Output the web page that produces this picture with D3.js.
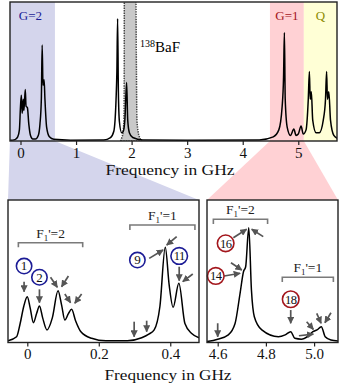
<!DOCTYPE html>
<html><head><meta charset="utf-8">
<script src="https://cdn.jsdelivr.net/npm/d3@7"></script>
<style>
body{margin:0;background:#fff;}
text{font-family:"Liberation Serif","DejaVu Serif",serif;}
</style></head><body>
<svg id="c" width="340" height="387"></svg>
<script>
// ---------- DATA ----------
// overview spectrum: [frequency GHz, relative intensity]
const overviewSpectrum = [
 [-0.19,0.005],[-0.1,0.01],[-0.05,0.03],[-0.02,0.08],[0.0,0.25],[0.015,0.33],[0.03,0.2],[0.05,0.3],[0.062,0.22],
 [0.086,0.37],[0.1,0.25],[0.124,0.24],[0.15,0.12],[0.18,0.04],[0.22,0.015],[0.27,0.015],[0.32,0.04],[0.35,0.12],
 [0.375,0.3],[0.39,0.69],[0.405,0.4],[0.425,0.44],[0.44,0.3],[0.47,0.1],[0.52,0.03],[0.6,0.012],[0.9,0.006],
 [1.5,0.008],[1.62,0.025],[1.68,0.07],[1.72,0.3],[1.735,0.5],[1.748,0.88],[1.762,0.35],[1.78,0.14],[1.82,0.06],
 [1.85,0.07],[1.88,0.16],[1.91,0.42],[1.93,0.15],[1.96,0.06],[2.02,0.025],[2.2,0.008],[3.0,0.005],[4.3,0.008],
 [4.55,0.03],[4.65,0.08],[4.71,0.25],[4.735,0.46],[4.75,0.78],[4.765,0.3],[4.8,0.1],[4.86,0.04],[4.92,0.086],
 [4.96,0.04],[5.0,0.05],[5.05,0.108],[5.09,0.05],[5.14,0.08],[5.18,0.3],[5.2,0.5],[5.215,0.3],[5.235,0.355],
 [5.26,0.15],[5.32,0.06],[5.38,0.06],[5.45,0.15],[5.49,0.3],[5.51,0.5],[5.525,0.3],[5.55,0.355],[5.58,0.15],
 [5.64,0.04],[5.7,0.02]
];
// 138BaF reference peak (clipped at top)
const bariumPeak = [
 [1.80,0],[1.82,0.02],[1.845,0.06],[1.862,0.16],[1.867,0.5],[1.87,1.5],[1.97,3],[2.07,1.5],[2.087,0.5],
 [2.095,0.16],[2.12,0.06],[2.15,0.02],[2.18,0]
];
// G=2 zoomed spectrum
const g2Spectrum = [
 [-0.054,0.009],[-0.03,0.037],[-0.02,0.13],[-0.01,0.25],[0.0,0.319],[0.008,0.24],[0.017,0.136],[0.026,0.2],[0.034,0.254],
 [0.043,0.17],[0.055,0.085],[0.07,0.17],[0.086,0.361],[0.096,0.26],[0.105,0.155],[0.115,0.2],[0.124,0.23],
 [0.135,0.15],[0.15,0.072],[0.18,0.026],[0.22,0.008],[0.28,0.009],[0.32,0.03],[0.34,0.056],[0.355,0.085],
 [0.371,0.25],[0.386,0.667],[0.397,0.4],[0.408,0.244],[0.424,0.413],[0.441,0.13],[0.46,0.06],[0.4804,0.03]
];
// G=1 zoomed spectrum
const g1Spectrum = [
 [4.556,0.003],[4.6,0.02],[4.644,0.05],[4.672,0.13],[4.693,0.345],[4.707,0.495],[4.716,0.53],[4.729,0.805],
 [4.74,0.366],[4.752,0.178],[4.783,0.085],[4.852,0.037],[4.88,0.05],[4.903,0.073],[4.92,0.026],[4.947,0.02],
 [4.975,0.042],[4.995,0.073],[5.012,0.085],[5.03,0.108],[5.046,0.037],[5.07,0.014],[5.099,0.007]
];
const overviewTicks = [0,1,2,3,4,5];
const g2Ticks = [0,0.2,0.4];
const g2TickLabels = ["0","0.2","0.4"];
const g1Ticks = [4.6,4.8,5.0];
const g1TickLabels = ["4.6","4.8","5.0"];
const axisTitle = "Frequency in GHz";
// highlighted regions in the overview
const regionNames = ["G=2","G=1","Q"];
const regionFrom = [-0.19,4.49,5.1];
const regionTo = [0.62,5.1,5.7];
// annotations, in data units: arrows [x1,y1,x2,y2]
const g2Arrows = [
 [-0.009,0.425,-0.009,0.354],[0.034,0.371,0.034,0.277],[0.065,0.456,0.084,0.385],[0.115,0.465,0.096,0.389],
 [0.105,0.338,0.121,0.277],[0.152,0.338,0.133,0.273],[0.299,0.143,0.299,0.037],[0.334,0.15,0.334,0.073],
 [0.341,0.589,0.380,0.648],[0.418,0.742,0.39,0.683],[0.425,0.53,0.425,0.432],[0.463,0.479,0.435,0.425]
];
const g2CircleX = [-0.009,0.034,0.308,0.425];
const g2CircleY = [0.535,0.456,0.577,0.606];
const g2CircleLabels = ["1","2","9","11"];
const g1Arrows = [
 [4.6,0.132,4.6,0.037],[4.627,0.465,4.693,0.484],[4.655,0.558,4.7,0.507],[4.665,0.734,4.72,0.794],
 [4.789,0.742,4.741,0.794],[4.903,0.225,4.903,0.132],[4.937,0.044,4.997,0.056],[4.969,0.143,4.997,0.089],
 [5.011,0.202,5.029,0.132],[5.07,0.206,5.045,0.136]
];
const g1CircleX = [4.592,4.633,4.903];
const g1CircleY = [0.465,0.695,0.301];
const g1CircleLabels = ["14","16","18"];
// brackets [x1,x2,y,yEnd]
const g2Brackets = [[-0.025,0.155,0.699,0.667],[0.287,0.469,0.824,0.789]];
const g2BracketLabels = ["2","1"];
const g1Brackets = [[4.582,4.807,0.864,0.831],[4.868,5.08,0.456,0.423]];
const g1BracketLabels = ["2","1"];

// ---------- DRAWING ----------
const svg = d3.select("#c");
const blueFill="#d4d5ec", redFill="#ffd1d4", yellowFill="#ffffd6";
const regionFills=[blueFill,redFill,yellowFill];
const regionText=["#1c1c96","#a3161c","#8c8c00"];

const topP = {x0:10,x1:337,y0:2,y1:141};
const xO = d3.scaleLinear().domain([-0.189,5.697]).range([topP.x0,topP.x1]);
const yO = d3.scaleLinear().domain([0,1]).range([141,2]);
const bl = {x0:8,x1:199,y0:200,y1:342.5};
const br = {x0:207,x1:338,y0:200,y1:342.5};
const xL = d3.scaleLinear().domain([-0.054,0.4804]).range([bl.x0,bl.x1]);
const xR = d3.scaleLinear().domain([4.5556,5.0992]).range([br.x0,br.x1]);
const yB = d3.scaleLinear().domain([0,1]).range([342,200]);

const defs = svg.append("defs");
defs.append("marker").attr("id","ah").attr("viewBox","0 0 10 10").attr("refX",9).attr("refY",5)
 .attr("markerWidth",4.2).attr("markerHeight",4.2).attr("markerUnits","strokeWidth").attr("orient","auto")
 .append("path").attr("d","M0,0 L10,5 L0,10 z").attr("fill","#555");
function clip(id,p){defs.append("clipPath").attr("id",id).append("rect").attr("x",p.x0).attr("y",p.y0).attr("width",p.x1-p.x0).attr("height",p.y1-p.y0);}
clip("cT",topP);clip("cL",bl);clip("cR",br);

// cones
svg.append("polygon").attr("fill",blueFill)
 .attr("points",[[xO(regionFrom[0]),topP.y1],[xO(regionTo[0]),topP.y1],[bl.x1,bl.y0],[bl.x0,bl.y0]].join(" "));
svg.append("polygon").attr("fill",redFill)
 .attr("points",[[xO(regionFrom[1]),topP.y1],[xO(regionTo[1]),topP.y1],[br.x1,br.y0],[br.x0,br.y0]].join(" "));

// overview regions
const gT = svg.append("g");
regionNames.forEach((n,i)=>{
  const a=Math.max(xO(regionFrom[i]),topP.x0), b=Math.min(xO(regionTo[i]),topP.x1);
  gT.append("rect").attr("x",a).attr("y",topP.y0).attr("width",b-a).attr("height",topP.y1-topP.y0).attr("fill",regionFills[i]);
  gT.append("text").attr("x",(a+b)/2+(i==0?-2:0)).attr("y",20).attr("text-anchor","middle").attr("font-size",13)
   .attr("fill",regionText[i]).text(n);
});
const line = (xs,ys)=>d3.line().x(d=>xs(d[0])).y(d=>ys(d[1])).curve(d3.curveMonotoneX);
const area = d3.area().x(d=>xO(d[0])).y0(yO(0)).y1(d=>yO(d[1])).curve(d3.curveMonotoneX);
const gTc = gT.append("g").attr("clip-path","url(#cT)");
gTc.append("path").datum(bariumPeak).attr("d",area).attr("fill","#c9c9c9").attr("stroke","#444")
 .attr("stroke-width",1.5).attr("stroke-dasharray","1.4,1.1");
gTc.append("path").datum(overviewSpectrum).attr("d",line(xO,yO)).attr("fill","none").attr("stroke","#000").attr("stroke-width",1.5);
const bt = gT.append("text").attr("x",140).attr("y",52).attr("font-size",15);
bt.append("tspan").attr("font-size",10).attr("dy",-5.5).text("138");
bt.append("tspan").attr("dy",5.5).text("BaF");

// axes
function axis(xs,ticks,labels,y){
  const g=svg.append("g").attr("transform",`translate(0,${y})`);
  g.call(d3.axisBottom(xs).tickValues(ticks).tickFormat((d,i)=>labels[i]).tickSize(4).tickPadding(2));
  g.select(".domain").remove();
  g.selectAll(".tick line").attr("stroke","#222").attr("stroke-width",1.2);
  g.selectAll(".tick text").attr("font-family",'"Liberation Serif",serif').attr("font-size",15).attr("fill","#111");
}
axis(xO,overviewTicks,overviewTicks.map(String),topP.y1);
axis(xL,g2Ticks,g2TickLabels,bl.y1);
axis(xR,g1Ticks,g1TickLabels,br.y1);
svg.append("text").attr("x",170).attr("y",174.5).attr("text-anchor","middle").attr("font-size",14.5)
 .attr("textLength",129).attr("lengthAdjust","spacingAndGlyphs").attr("fill","#111").text(axisTitle);
svg.append("text").attr("x",168).attr("y",380).attr("text-anchor","middle").attr("font-size",14.5)
 .attr("textLength",127).attr("lengthAdjust","spacingAndGlyphs").attr("fill","#111").text(axisTitle);

// bottom panels
function panel(p,xs,spec,arrows,cx,cy,cl,col,brs,brl,cid){
  svg.append("rect").attr("x",p.x0).attr("y",p.y0).attr("width",p.x1-p.x0).attr("height",p.y1-p.y0).attr("fill","#fff");
  const g=svg.append("g");
  g.append("g").attr("clip-path",`url(#${cid})`).append("path").datum(spec).attr("d",line(xs,yB))
   .attr("fill","none").attr("stroke","#000").attr("stroke-width",1.5);
  brs.forEach((b,i)=>{
    g.append("path").attr("d",`M${xs(b[0])},${yB(b[3])}V${yB(b[2])}H${xs(b[1])}V${yB(b[3])}`)
     .attr("fill","none").attr("stroke","#7a7a7a").attr("stroke-width",1.6);
    const t=g.append("text").attr("x",(xs(b[0])+xs(b[1]))/2).attr("y",yB(b[2])-5).attr("text-anchor","middle").attr("font-size",13.5).attr("fill","#222");
    t.append("tspan").text("F");
    t.append("tspan").attr("font-size",9).attr("dy",3).text("1");
    t.append("tspan").attr("dy",-3).text("'="+brl[i]);
  });
  arrows.forEach(a=>{
    g.append("line").attr("x1",xs(a[0])).attr("y1",yB(a[1])).attr("x2",xs(a[2])).attr("y2",yB(a[3]))
     .attr("stroke","#555").attr("stroke-width",1.7).attr("marker-end","url(#ah)");
  });
  cl.forEach((l,i)=>{
    const r = l.length>1?8.3:7.7;
    g.append("circle").attr("cx",xs(cx[i])).attr("cy",yB(cy[i])).attr("r",r).attr("fill","none")
     .attr("stroke",col).attr("stroke-width",1.6);
    g.append("text").attr("x",xs(cx[i])).attr("y",yB(cy[i])+4.3).attr("text-anchor","middle").attr("font-size",l.length>1?12.5:13)
     .attr("letter-spacing",l.length>1?-0.6:0).attr("fill","#111").text(l);
  });
}
panel(bl,xL,g2Spectrum,g2Arrows,g2CircleX,g2CircleY,g2CircleLabels,"#1c1c96",g2Brackets,g2BracketLabels,"cL");
panel(br,xR,g1Spectrum,g1Arrows,g1CircleX,g1CircleY,g1CircleLabels,"#a3161c",g1Brackets,g1BracketLabels,"cR");

// frames
[topP,bl,br].forEach(p=>svg.append("rect").attr("x",p.x0).attr("y",p.y0).attr("width",p.x1-p.x0).attr("height",p.y1-p.y0)
 .attr("fill","none").attr("stroke","#222").attr("stroke-width",1.4));
</script></body></html>
